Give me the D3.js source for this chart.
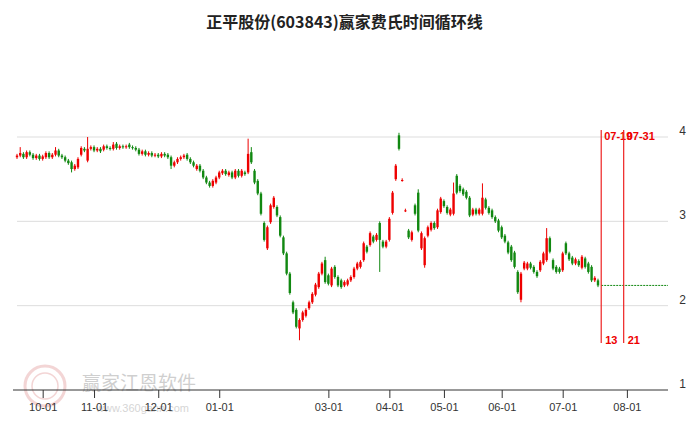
<!DOCTYPE html>
<html><head><meta charset="utf-8">
<script src="https://cdn.jsdelivr.net/npm/d3@7/dist/d3.min.js"></script>
<style>body{margin:0;background:#fff}svg{display:block}</style>
</head><body>
<script>
const opens = [3.76,3.78,3.80,3.76,3.82,3.79,3.75,3.78,3.74,3.76,3.81,3.76,3.79,3.84,3.78,3.76,3.72,3.70,3.62,3.64,
3.79,3.86,3.72,3.86,3.88,3.84,3.86,3.85,3.89,3.87,3.86,3.92,3.87,3.89,3.88,3.91,3.88,3.87,3.85,3.80,
3.83,3.79,3.81,3.78,3.79,3.77,3.80,3.79,3.76,3.66,3.70,3.74,3.76,3.79,3.74,3.70,3.62,3.66,3.60,3.52,
3.46,3.42,3.46,3.52,3.57,3.60,3.55,3.58,3.52,3.60,3.54,3.58,3.58,3.82,
3.60,3.48,3.33,2.98,2.68,2.99,3.17,3.17,3.05,2.81,2.62,2.38,2.04,1.95,1.73,1.83,1.88,1.97,2.04,2.13,
2.22,2.38,2.54,2.36,2.24,2.46,2.34,2.30,2.24,2.25,2.30,2.34,2.44,2.46,2.54,2.70,2.72,2.82,2.78,2.98,
2.76,2.70,2.78,3.10,3.50,4.02,3.49,3.13,2.89,2.78,3.19,3.34,2.68,2.48,2.83,2.90,2.98,2.93,3.11,3.24,
3.17,3.08,3.09,3.54,3.42,3.38,3.35,3.28,3.08,3.14,3.09,3.09,3.26,3.16,3.13,3.05,3.01,2.93,2.83,2.75,
2.70,2.63,2.40,2.07,2.44,2.44,2.50,2.46,2.40,2.42,2.50,2.54,2.80,2.54,2.46,2.44,2.42,2.74,2.62,2.57,
2.50,2.53,2.45,2.56,2.50,2.46,2.30,2.30];
const closes = [3.78,3.81,3.76,3.82,3.79,3.75,3.78,3.74,3.77,3.81,3.76,3.79,3.84,3.78,3.76,3.72,3.69,3.62,3.66,3.74,
3.87,3.84,3.86,3.88,3.84,3.86,3.83,3.89,3.87,3.86,3.91,3.87,3.89,3.88,3.89,3.88,3.87,3.85,3.80,3.83,
3.79,3.81,3.78,3.79,3.77,3.80,3.78,3.76,3.66,3.70,3.74,3.76,3.78,3.74,3.70,3.66,3.66,3.60,3.52,3.46,
3.42,3.48,3.52,3.58,3.60,3.56,3.58,3.52,3.60,3.54,3.60,3.56,3.80,3.70,
3.46,3.33,3.09,2.78,2.93,3.19,3.28,3.07,2.83,2.62,2.38,2.15,1.92,1.75,1.83,1.92,1.95,2.04,2.14,2.25,
2.38,2.50,2.28,2.26,2.44,2.34,2.24,2.22,2.28,2.30,2.34,2.44,2.50,2.52,2.74,2.64,2.86,2.76,2.84,2.78,
2.70,2.76,3.03,3.34,3.66,3.86,3.49,3.13,2.81,2.87,3.09,2.89,2.86,2.80,2.93,2.98,2.92,3.13,3.27,3.18,
3.10,3.14,3.33,3.34,3.36,3.32,3.28,3.07,3.14,3.09,3.14,3.28,3.16,3.10,3.05,3.00,2.89,2.81,2.76,2.63,
2.54,2.46,2.16,2.38,2.51,2.50,2.45,2.40,2.35,2.52,2.62,2.80,2.64,2.44,2.40,2.40,2.62,2.62,2.55,2.50,
2.55,2.48,2.58,2.46,2.40,2.30,2.33,2.24];
const wickHighs = {1:3.88,12:3.88,22:4.00,30:3.94,72:3.98,73:3.88,80:3.30,96:2.58,119:4.05,125:3.38,145:3.45,165:2.92,136:3.46};
const wickLows = {17:3.58,48:3.62,60:3.40,78:2.66,88:1.59,127:2.45,157:2.04,113:2.40};
const tickIdx = [8,24,44,63,97,116,133,151,170,190];
const tickLabels = ["10-01","11-01","12-01","01-01","03-01","04-01","05-01","06-01","07-01","08-01"];
const yTicks = [1,2,3,4];
const cycleIdx = [182,189];
const cycleDates = ["07-19","07-31"];
const cycleNums = ["13","21"];
const title = "正平股份(603843)赢家费氏时间循环线";

const W=689,H=427;
const svg=d3.select("body").append("svg").attr("width",W).attr("height",H);
const x=d3.scaleLinear().domain([0,closes.length-1]).range([17,598]);
const y=d3.scaleLinear().domain([1,4]).range([390,137]);

// watermark
const wm=svg.append("g").attr("opacity",0.35);
wm.append("circle").attr("cx",45).attr("cy",386).attr("r",20).attr("fill","none").attr("stroke","#d88").attr("stroke-width",3);
wm.append("circle").attr("cx",45).attr("cy",386).attr("r",13).attr("fill","none").attr("stroke","#d88").attr("stroke-width",1.5);
wm.append("text").attr("x",82).attr("y",390).attr("font-size",19).attr("fill","#777").attr("font-family","Noto Sans CJK SC").text("赢家江恩软件");
wm.append("text").attr("x",96).attr("y",412).attr("font-size",11).attr("fill","#888").attr("font-family","Liberation Sans").text("www.360gann.com");

svg.append("text").attr("x",W/2).attr("y",28).attr("text-anchor","middle").attr("font-size",16).attr("font-weight","bold")
  .attr("font-family","Noto Sans CJK SC").attr("fill","#222").text(title);

// grid
svg.selectAll(".g").data(yTicks.filter(d=>d>1)).enter().append("line")
  .attr("x1",17).attr("x2",668).attr("y1",d=>y(d)).attr("y2",d=>y(d)).attr("stroke","#ddd");
svg.selectAll(".yl").data(yTicks).enter().append("text").attr("x",686).attr("y",d=>y(d)-2).attr("text-anchor","end")
  .attr("font-size",12).attr("font-family","Liberation Sans").attr("fill","#333").text(d=>d);

// x axis
const xAxis=d3.axisBottom(x).tickValues(tickIdx).tickFormat((d,i)=>tickLabels[i]).tickSize(8).tickPadding(5);
const ag=svg.append("g").attr("transform","translate(0,390)").call(xAxis);
ag.select(".domain").attr("d","M13,0H668").attr("stroke","#333");
ag.selectAll("line").attr("stroke","#333");
ag.selectAll("text").attr("font-size",11).attr("font-family","Liberation Sans Narrow, Liberation Sans").attr("fill","#333");

// candles
const idx=d3.range(closes.length);
const cg=svg.append("g");
idx.forEach(i=>{
  const o=opens[i],c=closes[i];
  const col=c>=o?"#ee0000":"#118811";
  const hi=wickHighs[i]!==undefined?wickHighs[i]:Math.max(o,c)+0.02;
  const lo=wickLows[i]!==undefined?wickLows[i]:Math.min(o,c)-0.02;
  cg.append("line").attr("x1",x(i)).attr("x2",x(i)).attr("y1",y(hi)).attr("y2",y(lo)).attr("stroke",col).attr("stroke-width",1);
  const top=y(Math.max(o,c)),bot=y(Math.min(o,c));
  cg.append("rect").attr("x",x(i)-1.2).attr("width",2.4).attr("y",top).attr("height",Math.max(1,bot-top)).attr("fill",col);
});

// last close dashed
svg.append("line").attr("x1",x(cycleIdx[0])).attr("x2",668).attr("y1",y(closes[closes.length-1])).attr("y2",y(closes[closes.length-1]))
  .attr("stroke","#118811").attr("stroke-dasharray","2,1");

// cycle lines
cycleIdx.forEach((ci,k)=>{
  const xx=x(ci);
  svg.append("line").attr("x1",xx).attr("x2",xx).attr("y1",130).attr("y2",343).attr("stroke","#ee2222").attr("stroke-width",1.2);
  svg.append("text").attr("x",xx+3).attr("y",140).attr("font-size",11).attr("font-weight","bold").attr("font-family","Liberation Sans").attr("fill","#e00").text(cycleDates[k]);
  svg.append("text").attr("x",xx+4).attr("y",344).attr("font-size",11).attr("font-weight","bold").attr("font-family","Liberation Sans").attr("fill","#e00").text(cycleNums[k]);
});
</script>
</body></html>
